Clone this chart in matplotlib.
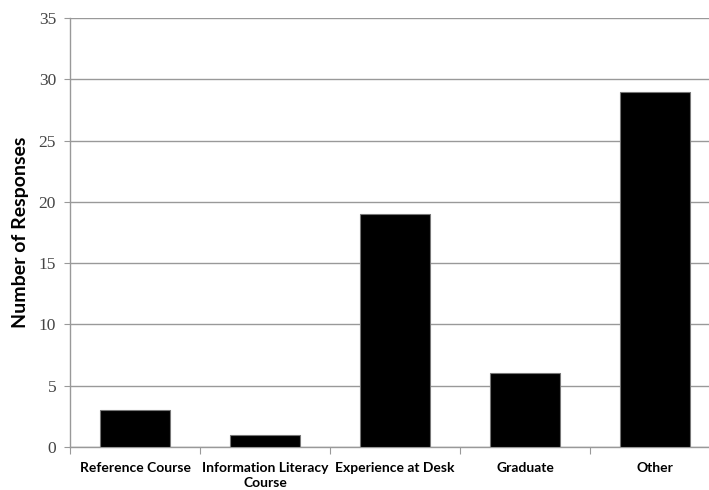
import matplotlib
matplotlib.use("Agg")
import matplotlib.pyplot as plt
import numpy as np

categories = ["Reference Course", "Information Literacy\nCourse", "Experience at Desk", "Graduate", "Other"]
responses = [3, 1, 19, 6, 29]
y_ticks = [0, 5, 10, 15, 20, 25, 30, 35]

fig = plt.figure(figsize=(7.09, 4.90), dpi=100)
ax = fig.add_axes([70 / 709, 1 - 447 / 490, 650 / 709, (447 - 18) / 490])

x = np.arange(len(categories))
ax.bar(x, responses, width=0.54, color="black", edgecolor="#777777", linewidth=0.8, zorder=3)

ax.set_xlim(-0.5, len(categories) - 0.5)
ax.set_ylim(0, 35)
ax.set_yticks(y_ticks)
ax.set_yticklabels([str(t) for t in y_ticks], fontfamily="Liberation Serif", fontsize=12.5, color="#444444")
ax.yaxis.grid(True, color="#999999", linewidth=1.0, zorder=0)
ax.tick_params(axis="y", length=4, color="#999999", pad=6)

# category labels centred in their slots, tick marks at slot boundaries
ax.set_xticks(np.arange(-0.5, len(categories) + 0.5, 1.0))
ax.set_xticklabels([])
ax.set_xticks(x, minor=True)
ax.set_xticklabels(categories, minor=True, fontfamily="Lato", fontweight="bold", fontsize=10, color="black")
ax.tick_params(axis="x", which="major", length=5, color="#999999")
ax.tick_params(axis="x", which="minor", length=0, pad=11)
for lbl in ax.get_xticklabels(minor=True):
    lbl.set_linespacing(1.25)

ax.set_ylabel("Number of Responses", fontfamily="Lato", fontweight="bold", fontsize=14, labelpad=7)

for side in ["top", "right"]:
    ax.spines[side].set_visible(False)
for side in ["left", "bottom"]:
    ax.spines[side].set_color("#999999")
    ax.spines[side].set_linewidth(1.0)

fig.savefig("out.png", dpi=100)
